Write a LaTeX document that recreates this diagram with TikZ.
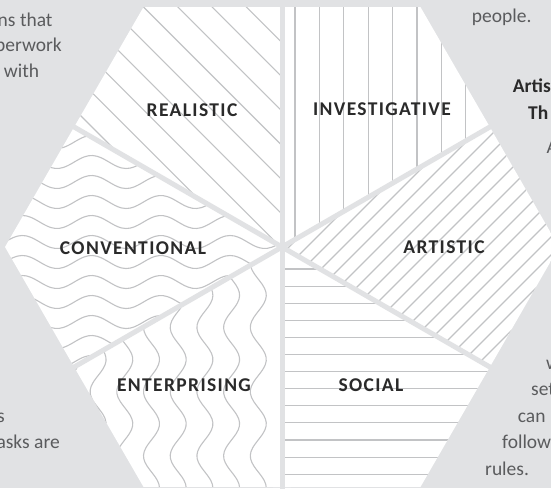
\documentclass[tikz,border=0pt]{standalone}
\usepackage{fontspec}
\setmainfont{Carlito}
\newfontfamily\sectorfont[LetterSpace=7.0]{Carlito}
\usetikzlibrary{positioning}

\definecolor{bgGray}{HTML}{E1E2E4}
\definecolor{hatchGray}{HTML}{C2C3C5}
\definecolor{labelGray}{HTML}{2A2A2A}
\definecolor{textGray}{HTML}{5A5B5D}

\begin{document}
\begin{tikzpicture}[x=1pt, y=1pt,
    sector/.style={font=\sectorfont\bfseries\fontsize{19.5}{19.5}\selectfont, text=labelGray, inner sep=0pt},
    side text/.style={font=\fontsize{19.5}{19.5}\selectfont, text=textGray, inner sep=0pt},
    side head/.style={side text, font=\bfseries\fontsize{19.5}{19.5}\selectfont, text=labelGray},
    hatch/.style={draw=hatchGray, line width=1.1pt},
    divider/.style={draw=bgGray, line width=5pt}]
  % Define background
  \fill[bgGray] (-282,-241) rectangle (269,247);
  \useasboundingbox (-282,-241) rectangle (269,247);
  \coordinate (Center) at (0,0);

  % Define side texts
  \node[side text, anchor=base east] (LeftTopA) at (-229.3,221) {ns that};
  \node[side text, anchor=base east] (LeftTopB) at (-220,195.3) {perwork};
  \node[side text, anchor=base east] (LeftTopC) at (-242.7,169.7) {with};
  \node[side text, anchor=base east] (LeftBotA) at (-277,-175) {s};
  \node[side text, anchor=base east] (LeftBotB) at (-222,-201) {asks are};
  \node[side text, anchor=base west] (RightTopA) at (189.7,224) {people.};
  \node[side head, anchor=base west] (RightTopB) at (230.7,154.3) {Artis};
  \node[side head, anchor=base west] (RightTopC) at (246,127.7) {Th};
  \node[side text, anchor=base west] (RightTopD) at (264.5,94) {A};
  \node[side text, anchor=base west] (RightBotA) at (264,-122) {w};
  \node[side text, anchor=base west] (RightBotB) at (249,-148) {set};
  \node[side text, anchor=base west] (RightBotC) at (235.7,-175) {can};
  \node[side text, anchor=base west] (RightBotD) at (220,-201) {follow};
  \node[side text, anchor=base west] (RightBotE) at (203,-228) {rules.};

  % Define sectors
  \begin{scope} % realistic
    \clip (Center) -- (90:240) -- (120:277) -- (150:240) -- cycle;
    \fill[white] (-300,-300) rectangle (300,300);
    \foreach \k in {-6,...,4}
      \draw[hatch] ({101.5+34.3*\k-300},300) -- ({101.5+34.3*\k+300},-300);
  \end{scope}
  \begin{scope} % investigative
    \clip (Center) -- (30:240) -- (60:277) -- (90:240) -- cycle;
    \fill[white] (-300,-300) rectangle (300,300);
    \foreach \k in {0,...,9}
      \draw[hatch] ({13+24.4*\k},0) -- ({13+24.4*\k},250);
  \end{scope}
  \begin{scope} % artistic
    \clip (Center) -- (-30:240) -- (0:277) -- (30:240) -- cycle;
    \fill[white] (-300,-300) rectangle (300,300);
    \foreach \k in {-3,...,16}
      \draw[hatch] ({277-18*\k-300},-300) -- ({277-18*\k+300},300);
  \end{scope}
  \begin{scope} % social
    \clip (Center) -- (-90:240) -- (-60:277) -- (-30:240) -- cycle;
    \fill[white] (-300,-300) rectangle (300,300);
    \foreach \k in {0,...,13}
      \draw[hatch] (0,{-22-17.1*\k}) -- (280,{-22-17.1*\k});
  \end{scope}
  \begin{scope} % enterprising
    \clip (Center) -- (-150:240) -- (-120:277) -- (-90:240) -- cycle;
    \fill[white] (-300,-300) rectangle (300,300);
    \foreach \k in {1,...,10}
      \draw[hatch] plot[smooth, domain=-248:2, samples=70, variable=\t]
        ({3-26.7*\k+8*sin(5.6*\t)}, \t);
  \end{scope}
  \begin{scope} % conventional
    \clip (Center) -- (150:240) -- (180:277) -- (210:240) -- cycle;
    \fill[white] (-300,-300) rectangle (300,300);
    \foreach \k in {-7,...,7}
      \draw[hatch] plot[smooth, domain=-285:2, samples=70, variable=\t]
        (\t, {5+20*\k+6.5*sin(5.2*\t)});
  \end{scope}

  % Define dividers
  \foreach \a in {30,90,...,330}
    \draw[divider] (Center) -- (\a:243);

  % Define labels
  \node[sector] (Realistic) at (-90,137) {REALISTIC};
  \node[sector] (Investigative) at (100,138) {INVESTIGATIVE};
  \node[sector] (Conventional) at (-149,-1) {CONVENTIONAL};
  \node[sector] (Artistic) at (162,0) {ARTISTIC};
  \node[sector] (Enterprising) at (-98,-138) {ENTERPRISING};
  \node[sector] (Social) at (89,-138) {SOCIAL};
\end{tikzpicture}
\end{document}
